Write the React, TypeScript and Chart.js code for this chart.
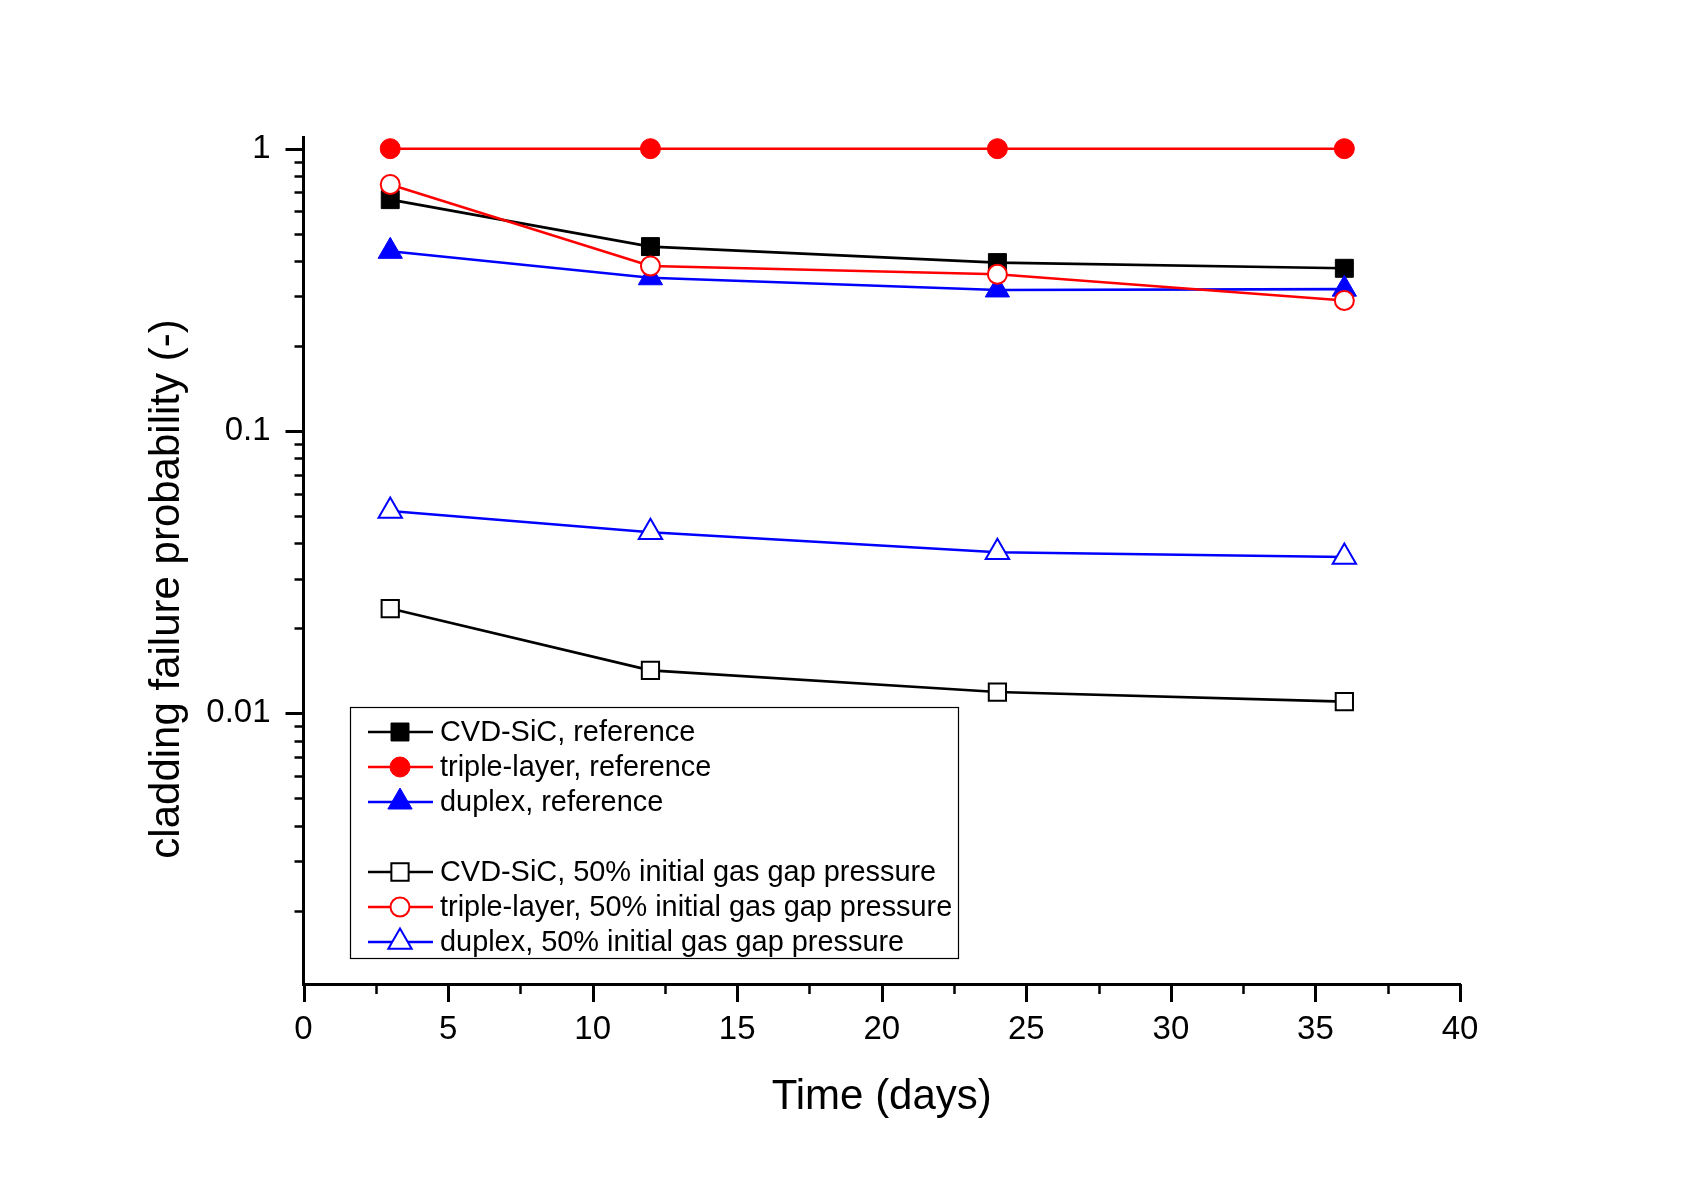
import React, { useEffect, useRef } from 'react';
import { Chart, registerables } from 'chart.js';

Chart.register(...registerables);

// ---- data ----
const days = [3, 12, 24, 36];
const cvdSicReference = [0.66, 0.45, 0.395, 0.377];
const tripleLayerReference = [1.0, 1.0, 1.0, 1.0];
const duplexReference = [0.433, 0.349, 0.316, 0.318];
const cvdSic50 = [0.0235, 0.0142, 0.0119, 0.011];
const tripleLayer50 = [0.747, 0.384, 0.359, 0.29];
const duplex50 = [0.0521, 0.0438, 0.0372, 0.0358];

const seriesLabels = [
  'CVD-SiC, reference',
  'triple-layer, reference',
  'duplex, reference',
  'CVD-SiC, 50% initial gas gap pressure',
  'triple-layer, 50% initial gas gap pressure',
  'duplex, 50% initial gas gap pressure',
];
const legendRows = [0, 1, 2, 4, 5, 6];

const xMajorTicks = [0, 5, 10, 15, 20, 25, 30, 35, 40];
const xMinorTicks = [2.5, 7.5, 12.5, 17.5, 22.5, 27.5, 32.5, 37.5];
const yMajorTicks = [1, 0.1, 0.01];
const yTickLabels = ['1', '0.1', '0.01'];
const yMinorMantissas = [2, 3, 4, 5, 6, 7, 8, 9];
const yMinorDecades = [0.001, 0.01, 0.1];
const xTitle = 'Time (days)';
const yTitle = 'cladding failure probability (-)';

const FONT = '"Liberation Sans", Arial, Helvetica, sans-serif';

const yMinorTicks: number[] = [];
yMinorDecades.forEach((d) => yMinorMantissas.forEach((m) => yMinorTicks.push(+(m * d).toPrecision(3))));

function makeSet(label: string, values: number[], color: string, style: string, filled: boolean, radius: number, order: number) {
  return {
    label,
    data: days.map((d, i) => ({ x: d, y: values[i] })),
    borderColor: color,
    backgroundColor: filled ? color : '#ffffff',
    pointStyle: style,
    pointRadius: radius,
    pointHoverRadius: radius,
    pointBorderWidth: filled ? 1 : 2,
    pointBackgroundColor: filled ? color : '#ffffff',
    pointBorderColor: color,
    borderWidth: 2.6,
    tension: 0,
    fill: false,
    order,
    clip: false as any,
  };
}

function drawMarker(ctx: CanvasRenderingContext2D, style: string, x: number, y: number, r: number, fill: string, stroke: string, lw: number) {
  ctx.save();
  ctx.fillStyle = fill;
  ctx.strokeStyle = stroke;
  ctx.lineWidth = lw;
  ctx.beginPath();
  if (style === 'rect') {
    const s = r * Math.SQRT1_2;
    ctx.rect(x - s, y - s, 2 * s, 2 * s);
  } else if (style === 'circle') {
    ctx.arc(x, y, r, 0, Math.PI * 2);
  } else if (style === 'triangle') {
    let a = 0;
    ctx.moveTo(x + Math.sin(a) * r, y - Math.cos(a) * r);
    a += (2 * Math.PI) / 3;
    ctx.lineTo(x + Math.sin(a) * r, y - Math.cos(a) * r);
    a += (2 * Math.PI) / 3;
    ctx.lineTo(x + Math.sin(a) * r, y - Math.cos(a) * r);
    ctx.closePath();
  }
  ctx.fill();
  ctx.stroke();
  ctx.restore();
}

const overlayPlugin = {
  id: 'overlay',
  afterDraw(chart: any) {
    const ctx: CanvasRenderingContext2D = chart.ctx;
    const xs = chart.scales.x;
    const ys = chart.scales.y;
    const area = chart.chartArea;
    ctx.save();
    ctx.strokeStyle = '#000';
    ctx.lineCap = 'butt';
    // y ticks (outward)
    yMajorTicks.forEach((v) => {
      const p = Math.round(ys.getPixelForValue(v)) + 0.5;
      ctx.lineWidth = 3;
      ctx.beginPath();
      ctx.moveTo(area.left, p);
      ctx.lineTo(area.left - 18, p);
      ctx.stroke();
    });
    yMinorTicks.forEach((v) => {
      if (v < ys.min || v > ys.max) return;
      const p = Math.round(ys.getPixelForValue(v)) + 0.5;
      ctx.lineWidth = 2.5;
      ctx.beginPath();
      ctx.moveTo(area.left, p);
      ctx.lineTo(area.left - 9, p);
      ctx.stroke();
    });
    // x ticks (outward)
    xMajorTicks.forEach((v) => {
      const p = Math.round(xs.getPixelForValue(v)) + 0.5;
      ctx.lineWidth = 3;
      ctx.beginPath();
      ctx.moveTo(p, area.bottom);
      ctx.lineTo(p, area.bottom + 18);
      ctx.stroke();
    });
    xMinorTicks.forEach((v) => {
      const p = Math.round(xs.getPixelForValue(v)) + 0.5;
      ctx.lineWidth = 2.5;
      ctx.beginPath();
      ctx.moveTo(p, area.bottom);
      ctx.lineTo(p, area.bottom + 10);
      ctx.stroke();
    });

    // axis titles
    ctx.fillStyle = '#000';
    ctx.font = `42px ${FONT}`;
    ctx.textAlign = 'center';
    ctx.textBaseline = 'middle';
    ctx.fillText(xTitle, (area.left + area.right) / 2, 1097);
    ctx.save();
    ctx.translate(167, 589);
    ctx.rotate(-Math.PI / 2);
    ctx.fillText(yTitle, 0, 0);
    ctx.restore();

    // legend box
    const bx = 350, by = 707, bw = 608, bh = 251;
    ctx.lineWidth = 1.2;
    ctx.strokeStyle = '#000';
    ctx.strokeRect(bx + 0.5, by + 0.5, bw, bh);
    ctx.font = `28.9px ${FONT}`;
    ctx.textAlign = 'left';
    ctx.textBaseline = 'middle';
    chart.data.datasets.forEach((ds: any, i: number) => {
      const y = 732 + legendRows[i] * 35;
      ctx.strokeStyle = ds.borderColor;
      ctx.lineWidth = 2.6;
      ctx.beginPath();
      ctx.moveTo(368, y);
      ctx.lineTo(433, y);
      ctx.stroke();
      drawMarker(ctx, ds.pointStyle, 400, y, ds.pointRadius, ds.pointBackgroundColor, ds.pointBorderColor, ds.pointBorderWidth);
      ctx.fillStyle = '#000';
      ctx.fillText(ds.label, 440, y + 1);
    });
    ctx.restore();
  },
};

export default function App() {
  const ref = useRef<HTMLCanvasElement | null>(null);
  useEffect(() => {
    if (!ref.current) return;
    const datasets = [
      makeSet(seriesLabels[0], cvdSicReference, '#000000', 'rect', true, 12.7, 5),
      makeSet(seriesLabels[1], tripleLayerReference, '#ff0000', 'circle', true, 10, 3),
      makeSet(seriesLabels[2], duplexReference, '#0000ff', 'triangle', true, 14, 4),
      makeSet(seriesLabels[3], cvdSic50, '#000000', 'rect', false, 12.2, 2),
      makeSet(seriesLabels[4], tripleLayer50, '#ff0000', 'circle', false, 9.5, 0),
      makeSet(seriesLabels[5], duplex50, '#0000ff', 'triangle', false, 13.5, 1),
    ];
    const chart = new Chart(ref.current, {
      type: 'line',
      data: { datasets: datasets as any },
      options: {
        responsive: false,
        animation: false,
        devicePixelRatio: 1,
        layout: { padding: { top: 137, right: 235, left: 0, bottom: 0 } },
        plugins: { legend: { display: false }, tooltip: { enabled: false } },
        scales: {
          x: {
            type: 'linear',
            min: 0,
            max: 40,
            bounds: 'data',
            afterBuildTicks: (scale: any) => {
              scale.ticks = xMajorTicks.map((v) => ({ value: v }));
            },
            afterFit: (scale: any) => {
              scale.height = 196;
            },
            grid: { display: false, drawTicks: false },
            border: { display: true, color: '#000', width: 3 },
            ticks: {
              autoSkip: false,
              maxRotation: 0,
              padding: 26,
              color: '#000',
              font: { family: FONT, size: 33 },
            },
          },
          y: {
            type: 'logarithmic',
            min: 0.0011,
            max: 1.1,
            bounds: 'data',
            afterBuildTicks: (scale: any) => {
              scale.ticks = yMajorTicks.map((v) => ({ value: v }));
            },
            afterFit: (scale: any) => {
              scale.width = 303.5;
            },
            grid: { display: false, drawTicks: false },
            border: { display: true, color: '#000', width: 3 },
            ticks: {
              autoSkip: false,
              padding: 33,
              color: '#000',
              font: { family: FONT, size: 33 },
              callback: (value: any) => {
                const idx = yMajorTicks.findIndex((t) => Math.abs(t - Number(value)) < 1e-9);
                return idx >= 0 ? yTickLabels[idx] : '';
              },
            },
          },
        },
      } as any,
      plugins: [overlayPlugin],
    });
    return () => chart.destroy();
  }, []);
  return (
    <div style={{ position: 'fixed', left: 0, top: 0, width: 1695, height: 1180, background: '#fff' }}>
      <canvas ref={ref} width={1695} height={1180} style={{ display: 'block' }} />
    </div>
  );
}
